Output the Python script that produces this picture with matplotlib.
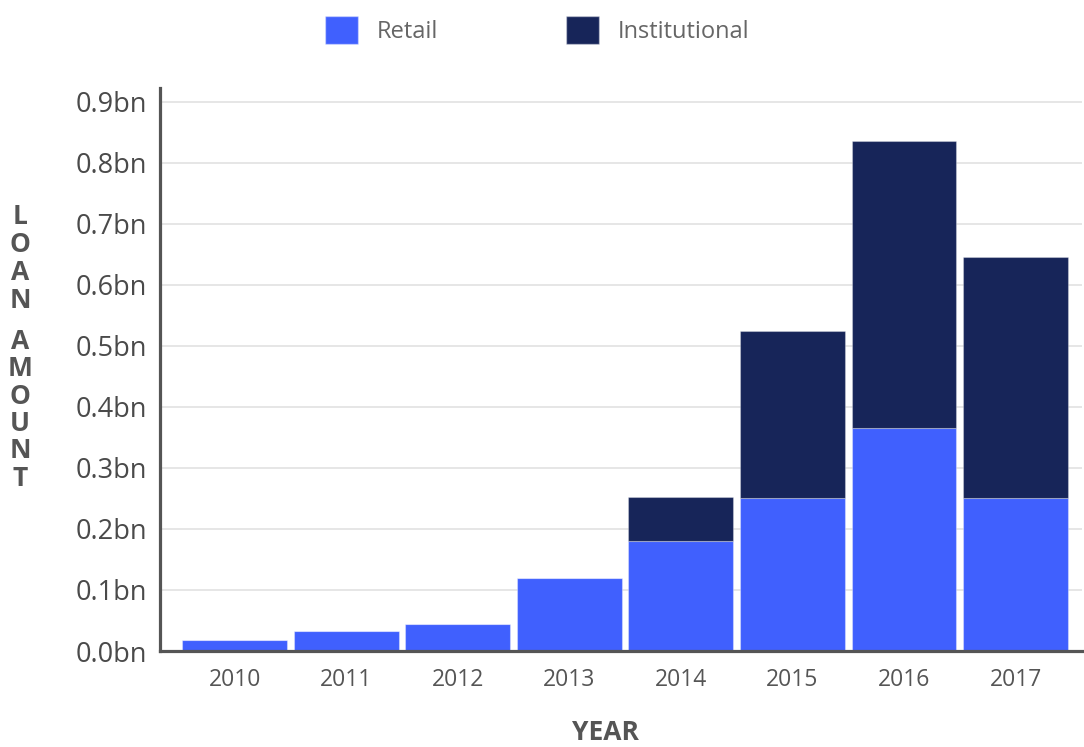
import numpy as np
import matplotlib
matplotlib.use("Agg")
from matplotlib import pyplot as plt
from matplotlib.patches import Patch
from matplotlib.ticker import FuncFormatter

plt.rcParams['font.family'] = ['Open Sans', 'DejaVu Sans']

years = ["2010", "2011", "2012", "2013", "2014", "2015", "2016", "2017"]
retail = [0.018, 0.033, 0.045, 0.12, 0.18, 0.25, 0.365, 0.25]
institutional = [0.0, 0.0, 0.0, 0.0, 0.073, 0.275, 0.47, 0.395]
yticks = [0.0, 0.1, 0.2, 0.3, 0.4, 0.5, 0.6, 0.7, 0.8, 0.9]

retail_color = "#4060fe"
inst_color = "#172559"
axis_color = "#555555"

fig = plt.figure(figsize=(10.84, 7.47), dpi=100)
ax = fig.add_axes([0.1476, 0.1285, 0.851, 0.7535])

x = np.arange(len(years))
ax.bar(x, retail, width=0.94, color=retail_color,
       edgecolor=(1, 1, 1, 0.35), linewidth=0.8, zorder=3)
ax.bar(x, institutional, width=0.94, bottom=retail, color=inst_color,
       edgecolor=(1, 1, 1, 0.3), linewidth=0.8, zorder=3)

ax.set_xlim(-0.67, 7.6)
ax.set_ylim(0, 0.922)
ax.set_xticks(x)
ax.set_xticklabels(years)
ax.set_yticks(yticks)
ax.yaxis.set_major_formatter(FuncFormatter(lambda v, p: f"{v:.1f}bn"))

ax.grid(axis="y", color="#e6e6e6", linewidth=1.4, zorder=0)
ax.set_axisbelow(True)

for side in ["top", "right"]:
    ax.spines[side].set_visible(False)
for side in ["left", "bottom"]:
    ax.spines[side].set_color(axis_color)
    ax.spines[side].set_linewidth(2.3)
    ax.spines[side].set_zorder(4)

ax.tick_params(axis="y", length=0, pad=9, labelsize=19.5, labelcolor="#4a4a4a")
ax.tick_params(axis="x", length=0, pad=12, labelsize=16.5, labelcolor="#555555")

# vertical stacked y label
label_letters = "LOANAMOUNT"
ypos = [216, 244, 272, 300, 342, 369, 396, 423, 451, 479]
for ch, yp in zip(label_letters, ypos):
    fig.text(20 / 1084, 1 - yp / 747, ch, ha="center", va="center",
             fontsize=19, fontweight="bold", color="#555555")

fig.text(605 / 1084, 1 - 733 / 747, "YEAR", ha="center", va="center",
         fontsize=19, fontweight="bold", color="#555555")

handles = [Patch(facecolor=retail_color, edgecolor=(1, 1, 1, 0.4), label="Retail"),
           Patch(facecolor=inst_color, edgecolor=(1, 1, 1, 0.4), label="Institutional")]
leg = fig.legend(handles=handles, loc="center", bbox_to_anchor=(537 / 1084, 1 - 30 / 747),
                 ncol=2, frameon=False, fontsize=17, handlelength=1.4, handleheight=1.4,
                 handletextpad=0.8, columnspacing=5.4)
for t in leg.get_texts():
    t.set_color("#666666")

fig.savefig("out.png", dpi=100)
